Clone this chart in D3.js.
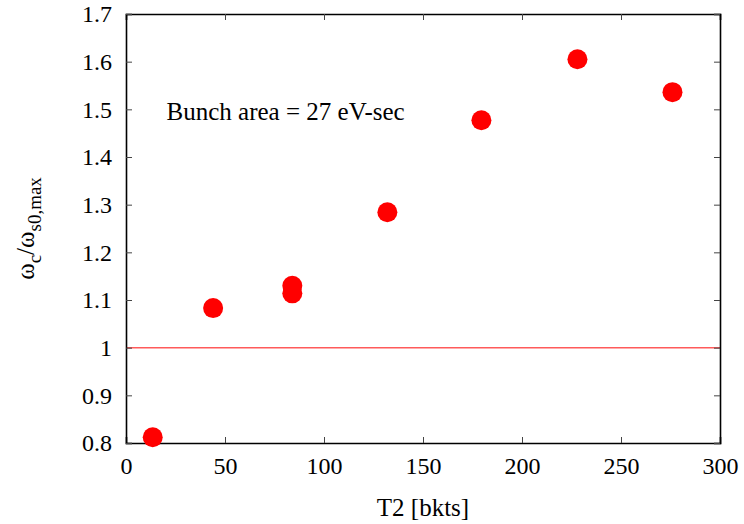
<!DOCTYPE html>
<html>
<head>
<meta charset="utf-8">
<script src="https://cdn.jsdelivr.net/npm/d3@7"></script>
<style>
  body { margin: 0; background: #fff; }
  text { font-family: "Liberation Serif", "Times New Roman", serif; fill: #000; }
</style>
</head>
<body>
<div id="chart"></div>
<script>
var width = 744,
    height = 524,
    margin = {top: 14, right: 24, bottom: 81, left: 126},
    r = 10;       // marker radius

// T2 [bkts] vs normalised frequency
var t2 = [13.5, 44, 84, 84, 132, 179.5, 228, 276];
var ratio = [0.812, 1.083, 1.130, 1.114, 1.284, 1.477, 1.605, 1.536];
var xTicks = [0, 50, 100, 150, 200, 250, 300];
var yTicks = [0.8, 0.9, 1, 1.1, 1.2, 1.3, 1.4, 1.5, 1.6, 1.7];
var refLevel = 1;

var svg = d3.select("#chart").append("svg")
    .attr("width", width)
    .attr("height", height);

var x = d3.scaleLinear().domain([0, 300]).range([margin.left, width - margin.right]);
var y = d3.scaleLinear().domain([0.8, 1.7]).range([height - margin.bottom, margin.top]);

var fmt = function (d) { return d === 1 ? "1" : d3.format(".1f")(d); };

// reference line
svg.append("line")
    .attr("x1", x(0)).attr("x2", x(300))
    .attr("y1", y(refLevel)).attr("y2", y(refLevel))
    .style("stroke", "#ff5a5a")
    .style("stroke-width", 1.5);

// axes, ticks pointing inwards on all four sides
var axB = svg.append("g").attr("transform", "translate(0," + y(0.8) + ")")
    .call(d3.axisBottom(x).tickValues(xTicks).tickSize(-6).tickPadding(14));
var axT = svg.append("g").attr("transform", "translate(0," + y(1.7) + ")")
    .call(d3.axisTop(x).tickValues(xTicks).tickSize(-6).tickFormat(""));
var axL = svg.append("g").attr("transform", "translate(" + x(0) + ",0)")
    .call(d3.axisLeft(y).tickValues(yTicks).tickSize(-6).tickPadding(14).tickFormat(fmt));
var axR = svg.append("g").attr("transform", "translate(" + x(300) + ",0)")
    .call(d3.axisRight(y).tickValues(yTicks).tickSize(-6).tickFormat(""));

[axB, axT, axL, axR].forEach(function (a) {
    a.select(".domain").style("stroke", "#000").style("stroke-width", 1.6);
    a.selectAll(".tick line").style("stroke", "#444").style("stroke-width", 1);
    a.selectAll(".tick text").style("font-size", "24px");
});

// data points
svg.append("g").selectAll("circle")
    .data(t2)
    .enter().append("circle")
    .attr("cx", function (d) { return x(d); })
    .attr("cy", function (d, i) { return y(ratio[i]); })
    .attr("r", r)
    .style("fill", "#ff0000");

// annotation
svg.append("text")
    .attr("x", x(20.5))
    .attr("y", y(1.5) + 11)
    .style("font-size", "25px")
    .text("Bunch area = 27 eV-sec");

// axis labels
svg.append("text")
    .attr("x", (x(0) + x(300)) / 2)
    .attr("y", 516)
    .attr("text-anchor", "middle")
    .style("font-size", "25px")
    .text("T2 [bkts]");

var yl = svg.append("text")
    .attr("transform", "translate(34," + ((y(0.8) + y(1.7)) / 2) + ") rotate(-90)")
    .attr("text-anchor", "middle")
    .style("font-size", "25px");
yl.append("tspan").text("ω");
yl.append("tspan").attr("dy", 7).style("font-size", "19px").text("c");
yl.append("tspan").attr("dy", -7).text("/ω");
yl.append("tspan").attr("dy", 7).style("font-size", "19px").text("s0,max");
</script>
</body>
</html>
